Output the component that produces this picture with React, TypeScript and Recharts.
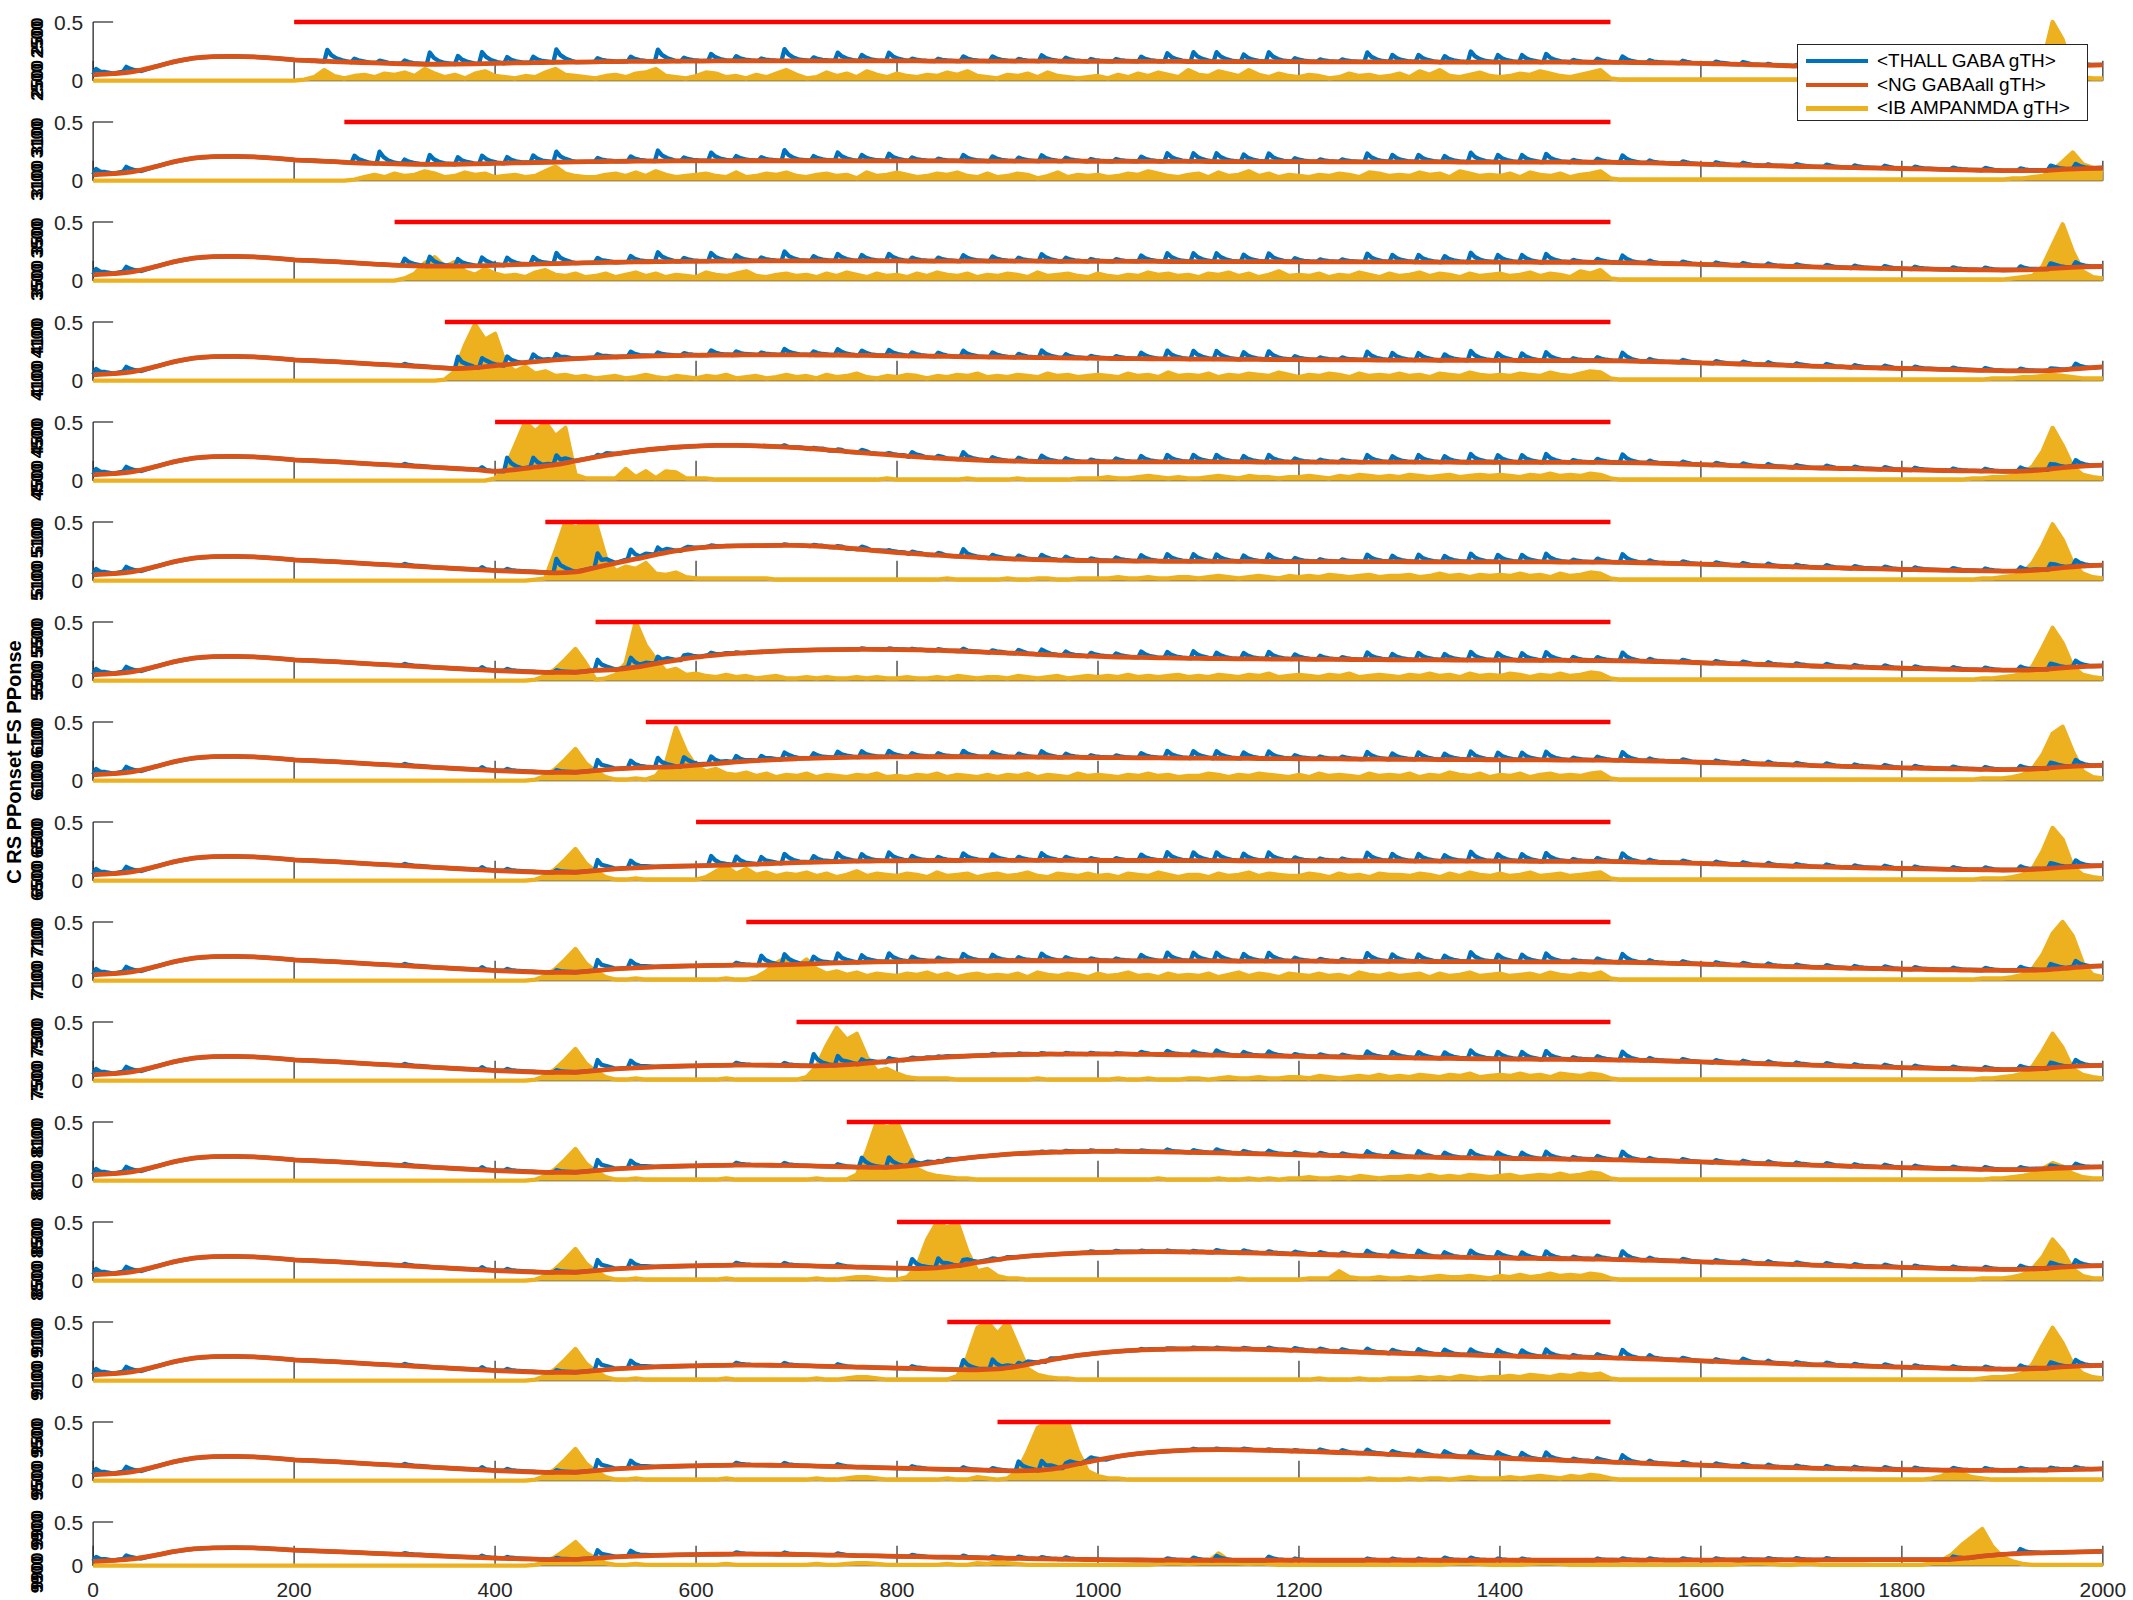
import React from "react";
import { ComposedChart, Line, Area, XAxis, YAxis } from "recharts";

// ---------------- text / style constants ----------------
const FONT = '"Liberation Sans", Arial, Helvetica, sans-serif';
const AXIS = "#262626";
const SERIES_NAMES = ["<THALL GABA gTH>", "<NG GABAall gTH>", "<IB AMPANMDA gTH>"];
const SERIES_COLORS = ["#0072BD", "#D95319", "#EDB120"];
const STIM_COLOR = "#FF0000";
const Y_LABEL = "C RS PPonset FS PPonse";
const PANEL_LABELS = [
  "2500 2500", "3100 3100", "3500 3500", "4100 4100", "4500 4500", "5100 5100",
  "5500 5500", "6100 6100", "6500 6500", "7100 7100", "7500 7500", "8100 8100",
  "8500 8500", "9100 9100", "9500 9500", "9900 9900",
];

// ---------------- axes ----------------
const X_TICKS = [0, 200, 400, 600, 800, 1000, 1200, 1400, 1600, 1800, 2000];
const Y_TICKS = [0, 0.5];

// ---------------- stimulus (red bar) ----------------
const STIM_ONSETS = [200, 250, 300, 350, 400, 450, 500, 550, 600, 650, 700, 750, 800, 850, 900];
const STIM_END = 1510;

// ---------------- THALL spike times (ms) & spike profile ----------------
const SPIKE_TIMES = [
  0, 30,
  230, 257, 282, 307, 332, 360, 384, 409,
  435, 458, 499, 532, 559, 585, 612, 637, 662, 685,
  714, 738, 762, 789, 812, 838, 863, 892, 918, 941,
  965, 990, 1015, 1040, 1066, 1092, 1115, 1142, 1167, 1193,
  1218, 1240, 1265, 1290, 1316, 1342, 1368, 1395, 1419, 1443,
  1470, 1494, 1519, 1546, 1579, 1612, 1639, 1664, 1692, 1722,
  1750, 1780, 1810, 1848, 1880, 1915, 1945, 1970,
];
const SPIKE_SHAPE = [[0, 0], [3, 1], [7, 0.55], [12, 0.28], [18, 0.1]];

// ---------------- unstimulated run (bottom panel, and every panel before its onset) ----------------
// NG GABAall, every 20 ms, x1000
const ORANGE_BASE = [
  50, 60, 78, 115, 160,
  192, 205, 207, 203, 192,
  178, 170, 162, 152, 142,
  132, 123, 114, 104, 95,
  86, 80, 74, 70, 72,
  86, 100, 110, 117, 123,
  127, 131, 133, 133, 131,
  128, 124, 120, 116, 112,
  107, 103, 99, 95, 91,
  87, 83, 79, 75, 72,
  69, 67, 65, 64, 63,
  62, 62, 62, 62, 62,
  62, 62, 62, 62, 62,
  62, 62, 62, 62, 62,
  62, 62, 62, 62, 62,
  62, 63, 63, 63, 64,
  64, 65, 65, 66, 66,
  67, 67, 68, 68, 69,
  69, 70, 70, 85, 110,
  130, 140, 147, 153, 159,
  164,
];
// IB AMPANMDA, every 10 ms, x100
const YELLOW_BASE = [
  0, 0, 0, 0, 0, 0, 0, 0, 0, 0,
  0, 0, 0, 0, 0, 0, 0, 0, 0, 0,
  0, 0, 0, 0, 0, 0, 0, 0, 0, 0,
  0, 0, 0, 0, 0, 0, 0, 0, 0, 0,
  0, 0, 0, 0, 1, 4, 10, 18, 27, 15,
  8, 3, 1, 1, 2, 1, 1, 1, 1, 1,
  1, 1, 1, 2, 1, 1, 1, 1, 1, 1,
  1, 1, 2, 1, 1, 2, 3, 3, 2, 1,
  1, 1, 1, 1, 1, 2, 1, 1, 3, 2,
  4, 3, 2, 1, 1, 1, 1, 1, 1, 1,
  1, 1, 1, 1, 1, 1, 2, 3, 3, 2,
  3, 5, 14, 6, 3, 2, 3, 2, 1, 1,
  1, 1, 1, 1, 1, 1, 1, 1, 1, 1,
  1, 1, 1, 1, 1, 2, 3, 3, 2, 1,
  1, 1, 1, 2, 3, 3, 2, 1, 1, 1,
  1, 1, 1, 1, 1, 1, 1, 1, 1, 1,
  1, 1, 1, 1, 2, 3, 3, 2, 1, 1,
  2, 2, 1, 1, 1, 1, 1, 1, 1, 1,
  1, 1, 1, 3, 6, 13, 24, 33, 42, 22,
  10, 5, 2, 1, 1, 1, 1, 1, 1, 1,
  1,
];
// THALL spike heights above NG curve, x100, one per SPIKE_TIMES entry
const BLUE_AMP_BASE = [
  5, 4,
  0, 0, 0, 2, 0, 0, 2, 2,
  0, 2, 9, 6, 0, 0, 0, 2, 0, 2,
  0, 2, 0, 0, 2, 0, 2, 2, 2, 2,
  2, 0, 0, 0, 2, 3, 5, 0, 4, 2,
  0, 0, 2, 2, 2, 3, 3, 2, 2, 0,
  0, 2, 2, 2, 2, 2, 2, 2, 2, 2,
  0, 0, 0, 2, 0, 5, 0, 0,
];

// ---------------- stimulated panels: values from the onset on ----------------
// NG GABAall (x1000, every 20 ms from first grid point >= onset)
const ORANGE_P0 = [178, 170, 163, 157, 151, 146, 142, 140, 141, 144, 148, 151, 154, 157, 159, 161, 163, 164, 165, 166, 167, 168, 168, 169, 169, 169, 169, 169, 169, 168, 168, 168, 167, 167, 167, 167, 166, 166, 166, 165, 165, 165, 164, 164, 164, 163, 163, 163, 162, 162, 162, 161, 161, 161, 160, 160, 160, 159, 159, 159, 158, 158, 158, 158, 157, 157, 156, 154, 152, 150, 147, 143, 139, 134, 129, 124, 120, 116, 112, 109, 106, 103, 101, 99, 98, 97, 98, 106, 120, 130, 135];
const ORANGE_P1 = [152, 147, 143, 140, 139, 140, 143, 147, 151, 155, 158, 161, 163, 165, 166, 167, 168, 169, 169, 170, 170, 170, 170, 170, 170, 169, 169, 169, 168, 168, 168, 167, 167, 167, 166, 166, 166, 165, 165, 165, 164, 164, 164, 163, 163, 163, 162, 162, 162, 161, 161, 161, 160, 160, 160, 159, 159, 159, 158, 158, 158, 157, 157, 155, 152, 149, 145, 141, 137, 133, 129, 125, 121, 117, 113, 110, 107, 104, 100, 96, 92, 89, 86, 85, 88, 96, 103, 108];
const ORANGE_P2 = [132, 127, 124, 124, 127, 131, 136, 141, 146, 150, 154, 157, 160, 162, 164, 165, 166, 167, 168, 168, 168, 168, 168, 168, 168, 168, 167, 167, 167, 167, 166, 166, 166, 165, 165, 165, 164, 164, 164, 163, 163, 163, 162, 162, 162, 161, 161, 161, 160, 160, 160, 159, 159, 159, 158, 158, 158, 157, 157, 157, 156, 154, 151, 147, 143, 139, 135, 131, 127, 123, 119, 115, 111, 108, 105, 102, 99, 96, 94, 92, 91, 92, 98, 110, 117, 121];
const ORANGE_P3 = [104, 112, 128, 146, 163, 177, 188, 196, 202, 207, 211, 214, 216, 218, 219, 220, 220, 220, 219, 218, 216, 214, 212, 210, 208, 205, 203, 201, 199, 197, 195, 193, 191, 189, 188, 186, 185, 184, 183, 182, 181, 180, 179, 178, 178, 177, 176, 176, 175, 174, 174, 173, 173, 172, 172, 171, 171, 170, 168, 165, 161, 157, 152, 147, 142, 137, 132, 127, 122, 117, 112, 108, 104, 100, 96, 92, 88, 85, 83, 84, 92, 105, 118];
const ORANGE_P4 = [80, 95, 115, 136, 168, 200, 228, 252, 270, 285, 295, 300, 300, 297, 291, 282, 270, 256, 242, 228, 215, 203, 192, 183, 176, 170, 166, 163, 161, 160, 160, 160, 160, 160, 160, 160, 160, 160, 159, 159, 159, 159, 159, 158, 158, 158, 158, 158, 157, 157, 157, 157, 157, 156, 156, 156, 154, 151, 147, 142, 137, 132, 127, 122, 117, 112, 108, 104, 100, 96, 93, 90, 87, 84, 82, 80, 82, 92, 112, 125, 132];
const ORANGE_P5 = [66, 75, 112, 150, 185, 222, 255, 278, 290, 296, 299, 300, 300, 295, 285, 270, 255, 240, 228, 217, 207, 198, 190, 184, 179, 175, 172, 170, 168, 167, 166, 165, 165, 164, 164, 164, 163, 163, 163, 162, 162, 162, 162, 161, 161, 161, 160, 160, 160, 160, 159, 159, 158, 156, 153, 149, 145, 141, 136, 131, 126, 121, 116, 112, 108, 104, 100, 96, 93, 90, 87, 84, 82, 84, 94, 112, 125, 132];
const ORANGE_P6 = [88, 95, 115, 145, 175, 200, 218, 232, 243, 252, 258, 262, 265, 266, 266, 265, 262, 258, 253, 246, 239, 232, 225, 218, 212, 207, 202, 198, 195, 192, 190, 188, 186, 185, 184, 183, 182, 181, 180, 179, 178, 177, 177, 176, 175, 175, 174, 173, 173, 172, 171, 169, 166, 162, 158, 153, 148, 143, 138, 133, 128, 123, 118, 114, 110, 106, 102, 98, 95, 92, 90, 90, 96, 110, 120, 126];
const ORANGE_P7 = [114, 120, 132, 146, 160, 171, 180, 187, 193, 197, 200, 202, 203, 204, 204, 204, 203, 202, 201, 200, 199, 198, 197, 196, 195, 194, 193, 192, 191, 190, 189, 188, 187, 186, 185, 184, 183, 182, 181, 180, 180, 179, 178, 178, 177, 176, 176, 175, 173, 170, 166, 162, 157, 152, 147, 142, 137, 132, 127, 122, 118, 114, 110, 106, 103, 100, 97, 95, 96, 104, 118, 126, 131];
const ORANGE_P8 = [127, 130, 135, 141, 148, 154, 159, 163, 166, 168, 170, 171, 172, 172, 173, 173, 173, 173, 173, 173, 172, 172, 172, 172, 171, 171, 171, 170, 170, 170, 169, 169, 169, 168, 168, 168, 167, 167, 167, 166, 166, 166, 165, 165, 165, 164, 162, 159, 155, 151, 147, 142, 137, 132, 127, 122, 118, 114, 110, 107, 104, 101, 98, 95, 93, 91, 92, 100, 114, 123, 129];
const ORANGE_P9 = [133, 135, 139, 145, 151, 156, 160, 163, 165, 167, 168, 169, 170, 170, 170, 170, 170, 170, 169, 169, 169, 168, 168, 168, 167, 167, 167, 166, 166, 165, 165, 165, 164, 164, 163, 163, 162, 162, 161, 161, 160, 160, 159, 157, 154, 150, 146, 142, 137, 132, 127, 122, 117, 113, 109, 105, 102, 99, 96, 93, 91, 89, 88, 88, 92, 104, 118, 126];
const ORANGE_P10 = [128, 126, 130, 142, 157, 172, 186, 197, 206, 213, 218, 222, 225, 226, 227, 227, 226, 225, 223, 221, 219, 217, 214, 212, 209, 207, 204, 202, 199, 197, 195, 193, 191, 189, 187, 185, 184, 182, 181, 180, 178, 176, 173, 169, 165, 160, 155, 150, 145, 140, 135, 130, 125, 120, 116, 112, 108, 104, 100, 97, 95, 96, 104, 118, 126, 131];
const ORANGE_P11 = [116, 113, 118, 134, 158, 183, 203, 218, 230, 238, 244, 247, 249, 249, 248, 246, 243, 240, 237, 233, 229, 225, 221, 217, 213, 210, 207, 204, 201, 198, 195, 193, 190, 188, 186, 184, 182, 180, 177, 174, 170, 165, 160, 155, 150, 145, 140, 135, 130, 125, 120, 116, 112, 108, 104, 100, 97, 95, 95, 100, 108, 114, 118];
const ORANGE_P12 = [107, 104, 110, 128, 155, 180, 200, 215, 226, 234, 240, 244, 246, 247, 246, 244, 241, 238, 235, 231, 227, 223, 219, 215, 211, 208, 205, 202, 199, 196, 194, 191, 189, 187, 185, 183, 180, 176, 171, 166, 161, 156, 151, 146, 141, 136, 131, 126, 121, 117, 113, 109, 105, 101, 98, 96, 97, 104, 116, 124, 129];
const ORANGE_P13 = [95, 93, 100, 122, 155, 188, 215, 235, 250, 260, 266, 270, 272, 271, 269, 266, 262, 258, 253, 248, 243, 238, 233, 228, 224, 220, 216, 212, 208, 205, 202, 199, 196, 192, 187, 181, 175, 169, 163, 157, 151, 145, 139, 134, 129, 124, 119, 115, 111, 107, 103, 100, 98, 99, 106, 118, 126, 131];
const ORANGE_P14 = [87, 84, 88, 108, 142, 178, 208, 230, 246, 256, 262, 264, 263, 260, 256, 251, 246, 240, 234, 228, 222, 216, 210, 204, 198, 192, 186, 180, 174, 168, 162, 156, 150, 144, 138, 132, 127, 122, 117, 113, 109, 105, 102, 99, 96, 94, 92, 90, 89, 88, 88, 89, 91, 94, 97, 100];

// IB AMPANMDA (x100, every 10 ms from onset)
const YELLOW_P0 = [
  0, 1, 3, 9, 4, 2, 4, 5, 3, 6,
  5, 7, 4, 10, 6, 3, 5, 2, 6, 8,
  4, 3, 2, 4, 3, 7, 10, 5, 4, 3,
  2, 4, 5, 3, 6, 7, 10, 4, 3, 2,
  4, 7, 6, 3, 4, 2, 5, 3, 6, 9,
  5, 2, 3, 7, 4, 6, 3, 8, 5, 3,
  6, 4, 3, 5, 4, 7, 5, 8, 4, 3,
  2, 5, 4, 6, 3, 7, 4, 3, 2, 3,
  4, 2, 5, 3, 6, 4, 7, 5, 3, 9,
  5, 4, 8, 6, 4, 9, 5, 3, 6, 4,
  3, 5, 4, 2, 3, 6, 4, 5, 3, 4,
  6, 3, 8, 5, 9, 4, 3, 5, 7, 4,
  3, 4, 6, 5, 8, 6, 4, 3, 5, 7,
  9, 2, 1, 1, 1, 1, 1, 1, 1, 1,
  1, 1, 1, 1, 1, 1, 1, 1, 1, 1,
  1, 1, 1, 1, 1, 1, 1, 1, 1, 1,
  1, 1, 1, 1, 1, 1, 1, 1, 1, 2,
  2, 2, 2, 4, 15, 50, 35, 8, 3, 2,
  2,
];
const YELLOW_P1 = [
  0, 1, 3, 5, 3,
  6, 4, 5, 8, 6, 3, 4, 7, 5, 6,
  3, 4, 5, 3, 4, 8, 12, 6, 4, 3,
  3, 5, 6, 4, 7, 4, 8, 5, 3, 4,
  5, 6, 4, 3, 7, 3, 4, 6, 5, 7,
  4, 3, 5, 6, 4, 5, 2, 7, 4, 5,
  7, 5, 3, 4, 6, 5, 7, 4, 3, 6,
  3, 4, 6, 5, 2, 4, 7, 3, 5, 4,
  5, 3, 4, 6, 5, 8, 6, 4, 3, 5,
  6, 3, 7, 4, 5, 8, 4, 6, 3, 5,
  4, 3, 5, 4, 6, 5, 3, 7, 6, 4,
  5, 4, 7, 5, 6, 3, 8, 6, 4, 5,
  4, 6, 3, 7, 5, 4, 6, 3, 5, 6,
  8, 2, 1, 1, 1, 1, 1, 1, 1, 1,
  1, 1, 1, 1, 1, 1, 1, 1, 1, 1,
  1, 1, 1, 1, 1, 1, 1, 1, 1, 1,
  1, 1, 1, 1, 1, 1, 1, 1, 1, 1,
  1, 2, 2, 3, 4, 9, 16, 24, 14, 11,
  7,
];
const YELLOW_P2 = [
  0, 2, 6, 15, 20, 12, 16, 8, 5, 10,
  6, 4, 5, 3, 7, 9, 5, 4, 6, 3,
  4, 6, 3, 5, 7, 4, 6, 3, 5, 4,
  3, 7, 5, 4, 6, 8, 4, 3, 5, 6,
  4, 5, 3, 6, 4, 7, 5, 3, 6, 4,
  5, 3, 6, 4, 7, 5, 4, 6, 3, 5,
  4, 6, 5, 3, 7, 4, 5, 6, 4, 3,
  6, 4, 3, 5, 4, 7, 5, 6, 4, 5,
  3, 6, 5, 7, 4, 6, 3, 5, 8, 4,
  5, 4, 6, 3, 5, 4, 7, 5, 3, 6,
  4, 5, 7, 4, 6, 5, 3, 6, 4, 5,
  6, 4, 5, 7, 4, 6, 5, 3, 8, 6,
  9, 2, 1, 1, 1, 1, 1, 1, 1, 1,
  1, 1, 1, 1, 1, 1, 1, 1, 1, 1,
  1, 1, 1, 1, 1, 1, 1, 1, 1, 1,
  1, 1, 1, 1, 1, 1, 1, 1, 1, 1,
  1, 2, 3, 4, 12, 30, 48, 25, 8, 3,
  2,
];
const YELLOW_P3 = [
  1, 8, 30, 48, 35,
  40, 15, 8, 12, 6, 8, 4, 5, 3, 4,
  2, 3, 4, 2, 3, 5, 3, 2, 4, 3,
  2, 4, 3, 5, 2, 3, 4, 2, 3, 5,
  3, 4, 2, 5, 3, 4, 6, 3, 2, 4,
  3, 5, 4, 2, 4, 3, 5, 4, 6, 3,
  4, 3, 5, 4, 3, 6, 4, 5, 3, 4,
  5, 4, 3, 6, 4, 5, 3, 7, 4, 5,
  4, 6, 3, 5, 4, 6, 5, 4, 7, 5,
  3, 5, 4, 6, 5, 3, 6, 4, 5, 4,
  6, 4, 5, 3, 6, 5, 4, 7, 5, 4,
  5, 4, 6, 5, 4, 7, 5, 4, 6, 8,
  7, 2, 1, 1, 1, 1, 1, 1, 1, 1,
  1, 1, 1, 1, 1, 1, 1, 1, 1, 1,
  1, 1, 1, 1, 1, 1, 1, 1, 1, 1,
  1, 1, 1, 1, 1, 1, 1, 1, 1, 2,
  2, 2, 3, 3, 4, 5, 4, 3, 2, 2,
  2,
];
const YELLOW_P4 = [
  2, 10, 30, 50, 42, 50, 38, 45, 5, 2,
  2, 2, 2, 10, 3, 8, 2, 8, 7, 2,
  2, 2, 1, 1, 1, 1, 1, 1, 1, 1,
  1, 1, 1, 1, 1, 1, 1, 1, 1, 2,
  1, 1, 1, 1, 1, 1, 1, 2, 1, 1,
  1, 1, 2, 1, 1, 1, 1, 1, 2, 2,
  2, 3, 2, 2, 3, 4, 3, 2, 3, 2,
  2, 3, 4, 3, 2, 4, 3, 3, 2, 3,
  3, 4, 3, 2, 4, 3, 5, 4, 3, 4,
  3, 5, 4, 3, 4, 5, 3, 4, 5, 4,
  5, 4, 3, 5, 4, 6, 4, 5, 4, 6,
  5, 2, 1, 1, 1, 1, 1, 1, 1, 1,
  1, 1, 1, 1, 1, 1, 1, 1, 1, 1,
  1, 1, 1, 1, 1, 1, 1, 1, 1, 1,
  1, 1, 1, 1, 1, 1, 1, 2, 2, 3,
  3, 4, 6, 12, 25, 45, 30, 12, 5, 3,
  2,
];
const YELLOW_P5 = [
  2, 25, 50, 45, 50,
  50, 20, 8, 12, 10, 15, 6, 5, 7, 3,
  2, 2, 2, 2, 2, 2, 2, 2, 1, 1,
  1, 1, 1, 1, 1, 1, 1, 1, 1, 1,
  1, 1, 1, 1, 1, 2, 1, 1, 1, 1,
  1, 2, 1, 1, 2, 2, 1, 1, 2, 2,
  2, 2, 3, 2, 2, 3, 2, 2, 3, 3,
  2, 3, 4, 3, 2, 3, 4, 3, 2, 4,
  3, 4, 3, 5, 4, 3, 4, 5, 3, 4,
  4, 5, 3, 4, 6, 4, 5, 3, 5, 4,
  5, 4, 6, 4, 5, 3, 6, 4, 5, 7,
  6, 2, 1, 1, 1, 1, 1, 1, 1, 1,
  1, 1, 1, 1, 1, 1, 1, 1, 1, 1,
  1, 1, 1, 1, 1, 1, 1, 1, 1, 1,
  1, 1, 1, 1, 1, 1, 1, 1, 2, 2,
  3, 4, 6, 15, 30, 48, 35, 15, 6, 3,
  2,
];
const YELLOW_P6 = [
  1, 2, 5, 15, 50, 30, 18, 8, 10, 5,
  6, 4, 3, 5, 3, 4, 2, 3, 4, 2,
  2, 3, 2, 3, 2, 2, 3, 2, 3, 2,
  2, 3, 2, 2, 3, 2, 4, 3, 2, 3,
  3, 2, 4, 3, 2, 3, 4, 2, 3, 4,
  3, 4, 3, 5, 3, 4, 3, 4, 5, 3,
  4, 3, 5, 4, 3, 5, 4, 6, 3, 4,
  5, 4, 3, 5, 4, 6, 3, 4, 5, 4,
  3, 5, 4, 6, 4, 5, 3, 6, 4, 5,
  4, 6, 5, 3, 5, 4, 6, 4, 5, 7,
  6, 2, 1, 1, 1, 1, 1, 1, 1, 1,
  1, 1, 1, 1, 1, 1, 1, 1, 1, 1,
  1, 1, 1, 1, 1, 1, 1, 1, 1, 1,
  1, 1, 1, 1, 1, 1, 1, 1, 2, 2,
  3, 4, 6, 12, 28, 45, 32, 12, 5, 3,
  2,
];
const YELLOW_P7 = [
  1, 4, 15, 45, 25,
  12, 8, 10, 6, 5, 7, 4, 6, 3, 5,
  4, 6, 3, 5, 4, 3, 5, 4, 6, 3,
  4, 3, 5, 4, 6, 3, 5, 4, 3, 5,
  3, 5, 4, 6, 3, 5, 4, 3, 6, 4,
  5, 4, 3, 5, 4, 6, 4, 5, 3, 4,
  4, 6, 5, 3, 5, 4, 6, 5, 4, 3,
  5, 3, 6, 4, 5, 4, 3, 6, 4, 5,
  4, 6, 3, 5, 4, 7, 5, 4, 6, 3,
  5, 4, 6, 3, 5, 6, 4, 5, 4, 6,
  7, 2, 1, 1, 1, 1, 1, 1, 1, 1,
  1, 1, 1, 1, 1, 1, 1, 1, 1, 1,
  1, 1, 1, 1, 1, 1, 1, 1, 1, 1,
  1, 1, 1, 1, 1, 1, 1, 1, 2, 2,
  2, 3, 5, 10, 22, 40, 46, 25, 8, 3,
  2,
];
const YELLOW_P8 = [
  1, 3, 8, 12, 6, 10, 5, 7, 4, 6,
  5, 7, 4, 6, 3, 5, 8, 4, 6, 5,
  4, 6, 5, 3, 7, 4, 5, 6, 3, 5,
  6, 4, 5, 7, 4, 3, 6, 5, 4, 6,
  4, 5, 3, 6, 5, 4, 7, 5, 3, 5,
  5, 3, 6, 4, 5, 7, 4, 6, 5, 4,
  4, 6, 5, 3, 6, 4, 5, 3, 6, 5,
  5, 4, 6, 5, 3, 6, 4, 7, 5, 4,
  6, 4, 5, 7, 4, 5, 6, 4, 5, 6,
  7, 2, 1, 1, 1, 1, 1, 1, 1, 1,
  1, 1, 1, 1, 1, 1, 1, 1, 1, 1,
  1, 1, 1, 1, 1, 1, 1, 1, 1, 1,
  1, 1, 1, 1, 1, 1, 1, 1, 2, 2,
  2, 3, 5, 10, 25, 45, 35, 12, 5, 3,
  2,
];
const YELLOW_P9 = [
  1, 3, 8, 15, 20,
  12, 18, 10, 6, 8, 5, 7, 4, 6, 5,
  4, 6, 5, 7, 4, 6, 3, 5, 6, 4,
  5, 4, 6, 3, 7, 5, 4, 6, 5, 3,
  6, 4, 5, 7, 4, 5, 3, 6, 4, 5,
  4, 6, 3, 5, 7, 4, 6, 5, 3, 6,
  5, 4, 6, 4, 5, 3, 7, 5, 4, 6,
  4, 5, 6, 3, 6, 4, 5, 7, 4, 5,
  6, 4, 5, 6, 4, 7, 5, 4, 6, 5,
  7, 2, 1, 1, 1, 1, 1, 1, 1, 1,
  1, 1, 1, 1, 1, 1, 1, 1, 1, 1,
  1, 1, 1, 1, 1, 1, 1, 1, 1, 1,
  1, 1, 1, 1, 1, 1, 1, 1, 2, 2,
  2, 3, 5, 10, 22, 40, 50, 38, 15, 5,
  3,
];
const YELLOW_P10 = [
  1, 3, 12, 30, 45, 35, 40, 20, 8, 10,
  6, 3, 2, 2, 2, 2, 1, 1, 1, 1,
  1, 1, 1, 1, 2, 1, 1, 1, 1, 1,
  1, 1, 2, 1, 1, 2, 1, 1, 1, 2,
  2, 1, 2, 3, 2, 2, 3, 2, 2, 3,
  3, 2, 4, 3, 2, 3, 4, 3, 5, 3,
  4, 3, 5, 4, 3, 5, 4, 6, 3, 4,
  5, 4, 6, 4, 5, 3, 6, 5, 4, 6,
  5, 2, 1, 1, 1, 1, 1, 1, 1, 1,
  1, 1, 1, 1, 1, 1, 1, 1, 1, 1,
  1, 1, 1, 1, 1, 1, 1, 1, 1, 1,
  1, 1, 1, 1, 1, 1, 1, 1, 2, 2,
  3, 4, 6, 12, 25, 40, 28, 10, 5, 3,
  2,
];
const YELLOW_P11 = [
  1, 5, 25, 50, 45,
  50, 30, 10, 6, 4, 3, 2, 2, 1, 1,
  1, 1, 1, 1, 1, 1, 1, 1, 1, 1,
  1, 1, 1, 1, 1, 1, 2, 1, 1, 1,
  1, 1, 2, 1, 1, 2, 1, 2, 1, 2,
  2, 3, 2, 2, 3, 2, 4, 3, 2, 3,
  3, 4, 3, 5, 3, 4, 3, 5, 4, 3,
  4, 5, 3, 4, 5, 4, 6, 4, 5, 7,
  6, 2, 1, 1, 1, 1, 1, 1, 1, 1,
  1, 1, 1, 1, 1, 1, 1, 1, 1, 1,
  1, 1, 1, 1, 1, 1, 1, 1, 1, 1,
  1, 1, 1, 1, 1, 1, 1, 1, 1, 2,
  2, 3, 4, 6, 10, 15, 12, 6, 3, 2,
  2,
];
const YELLOW_P12 = [
  1, 3, 12, 35, 50, 45, 50, 25, 8, 10,
  4, 2, 2, 1, 1, 1, 1, 1, 1, 1,
  1, 1, 1, 1, 1, 1, 1, 1, 1, 1,
  1, 1, 1, 1, 2, 1, 1, 1, 1, 1,
  1, 2, 2, 2, 8, 3, 2, 2, 3, 2,
  2, 3, 2, 3, 4, 3, 3, 4, 3, 2,
  4, 3, 5, 3, 4, 6, 4, 5, 4, 6,
  5, 2, 1, 1, 1, 1, 1, 1, 1, 1,
  1, 1, 1, 1, 1, 1, 1, 1, 1, 1,
  1, 1, 1, 1, 1, 1, 1, 1, 1, 1,
  1, 1, 1, 1, 1, 1, 1, 1, 2, 2,
  2, 3, 5, 10, 20, 35, 25, 10, 4, 2,
  2,
];
const YELLOW_P13 = [
  1, 4, 20, 45, 50,
  40, 50, 30, 10, 5, 3, 2, 2, 1, 1,
  1, 1, 1, 1, 1, 1, 1, 1, 1, 1,
  1, 1, 1, 1, 1, 1, 1, 1, 1, 1,
  1, 1, 2, 1, 1, 1, 2, 1, 1, 2,
  2, 2, 3, 2, 3, 2, 4, 3, 2, 3,
  3, 4, 3, 5, 4, 3, 5, 4, 6, 5,
  6, 2, 1, 1, 1, 1, 1, 1, 1, 1,
  1, 1, 1, 1, 1, 1, 1, 1, 1, 1,
  1, 1, 1, 1, 1, 1, 1, 1, 1, 1,
  1, 1, 1, 1, 1, 1, 1, 1, 2, 3,
  3, 4, 6, 14, 30, 45, 32, 14, 6, 3,
  2,
];
const YELLOW_P14 = [
  1, 2, 8, 25, 45, 50, 48, 50, 25, 8,
  4, 2, 2, 1, 1, 1, 1, 1, 1, 1,
  1, 1, 1, 1, 1, 1, 1, 1, 1, 1,
  1, 1, 1, 1, 1, 1, 1, 2, 1, 1,
  1, 2, 1, 2, 2, 1, 2, 3, 2, 2,
  2, 3, 2, 3, 4, 3, 2, 4, 3, 5,
  4, 2, 1, 1, 1, 1, 1, 1, 1, 1,
  1, 1, 1, 1, 1, 1, 1, 1, 1, 1,
  1, 1, 1, 1, 1, 1, 1, 1, 1, 1,
  1, 1, 1, 2, 4, 10, 6, 3, 2, 1,
  1, 1, 1, 1, 1, 1, 1, 1, 1, 1,
  1,
];

// THALL spike heights (x100) from the first spike time >= onset
const BLUE_AMP_P0 = [10, 3, 2, 3, 10, 7, 10, 5, 5, 11, 3, 4, 10, 3, 6, 4, 2, 10, 3, 7, 5, 7, 2, 2, 4, 4, 2, 5, 3, 2, 2, 4, 7, 8, 8, 6, 8, 3, 2, 2, 8, 6, 6, 5, 9, 6, 6, 7, 2, 3, 5, 2, 2, 2, 2, 1, 1, 2, 2, 2, 2, 2, 2, 2, 3, 4];
const BLUE_AMP_P1 = [6, 10, 4, 8, 6, 7, 5, 6, 9, 3, 4, 9, 3, 7, 4, 3, 9, 4, 7, 5, 6, 3, 2, 5, 4, 3, 5, 3, 2, 2, 4, 7, 7, 7, 6, 7, 3, 2, 2, 7, 6, 6, 5, 8, 6, 6, 7, 2, 3, 6, 2, 2, 2, 2, 1, 2, 2, 2, 2, 2, 2, 2, 2, 4, 4];
const BLUE_AMP_P2 = [6, 8, 6, 7, 6, 6, 9, 4, 5, 8, 3, 7, 5, 3, 8, 4, 6, 5, 6, 3, 3, 5, 4, 3, 6, 3, 2, 2, 5, 7, 7, 7, 6, 7, 3, 2, 2, 7, 6, 6, 5, 8, 6, 6, 7, 2, 3, 6, 2, 2, 2, 2, 2, 2, 2, 2, 2, 2, 2, 2, 3, 5, 4];
const BLUE_AMP_P3 = [10, 8, 6, 6, 5, 3, 4, 3, 2, 4, 3, 2, 5, 3, 5, 4, 5, 3, 3, 5, 4, 3, 6, 3, 2, 2, 5, 7, 7, 7, 6, 7, 3, 2, 2, 7, 6, 6, 5, 8, 6, 6, 7, 2, 3, 7, 2, 2, 2, 2, 2, 2, 2, 2, 2, 2, 2, 2, 2, 2, 4];
const BLUE_AMP_P4 = [10, 8, 8, 2, 0, 0, 0, 0, 0, 0, 1, 1, 1, 2, 2, 4, 2, 6, 3, 3, 5, 3, 2, 3, 5, 6, 6, 6, 5, 6, 3, 2, 2, 6, 5, 6, 5, 7, 6, 6, 7, 2, 3, 7, 2, 2, 2, 2, 2, 2, 2, 2, 2, 2, 2, 2, 3, 5, 5];
const BLUE_AMP_P5 = [12, 12, 8, 6, 2, 1, 0, 0, 1, 1, 1, 2, 2, 2, 2, 6, 3, 3, 4, 3, 2, 3, 5, 6, 6, 6, 5, 6, 3, 2, 2, 6, 5, 6, 5, 7, 6, 6, 7, 2, 3, 7, 2, 2, 2, 2, 2, 2, 2, 2, 2, 2, 2, 2, 3, 5, 5];
const BLUE_AMP_P6 = [8, 6, 4, 2, 1, 0, 0, 0, 0, 1, 1, 1, 1, 2, 2, 3, 4, 3, 3, 3, 5, 5, 6, 5, 5, 6, 4, 3, 2, 6, 5, 6, 5, 7, 6, 6, 7, 3, 3, 7, 2, 2, 2, 2, 2, 2, 2, 2, 2, 2, 2, 2, 3, 5, 5];
const BLUE_AMP_P7 = [8, 8, 6, 5, 4, 6, 4, 5, 5, 5, 3, 3, 5, 4, 3, 5, 3, 2, 2, 4, 6, 6, 6, 5, 6, 3, 2, 2, 6, 5, 6, 5, 7, 6, 6, 7, 2, 3, 7, 2, 2, 2, 2, 2, 2, 2, 2, 2, 2, 2, 2, 3, 5, 5];
const BLUE_AMP_P8 = [8, 7, 6, 8, 5, 7, 6, 7, 4, 3, 6, 5, 3, 6, 3, 2, 2, 5, 7, 7, 7, 6, 7, 3, 2, 2, 7, 6, 6, 5, 8, 6, 6, 7, 2, 3, 7, 2, 2, 2, 2, 2, 2, 2, 2, 2, 2, 2, 2, 3, 5, 5];
const BLUE_AMP_P9 = [8, 9, 6, 8, 6, 7, 4, 3, 6, 5, 3, 6, 3, 2, 2, 5, 7, 7, 7, 6, 7, 3, 2, 2, 7, 6, 6, 5, 8, 6, 6, 7, 2, 3, 7, 2, 2, 2, 2, 2, 2, 2, 2, 2, 2, 2, 2, 3, 5, 5];
const BLUE_AMP_P10 = [10, 8, 4, 2, 1, 1, 0, 1, 1, 1, 1, 1, 1, 2, 3, 3, 4, 3, 4, 2, 2, 2, 5, 5, 5, 5, 7, 6, 6, 7, 2, 3, 7, 2, 2, 2, 2, 2, 2, 2, 2, 2, 2, 2, 2, 3, 5, 5];
const BLUE_AMP_P11 = [8, 8, 4, 1, 0, 0, 0, 1, 1, 1, 1, 1, 2, 2, 3, 2, 3, 2, 2, 2, 4, 4, 5, 4, 6, 5, 5, 6, 2, 3, 7, 2, 2, 2, 2, 2, 2, 2, 2, 2, 2, 2, 2, 2, 3, 3];
const BLUE_AMP_P12 = [8, 8, 5, 1, 0, 0, 0, 1, 1, 1, 1, 1, 2, 2, 2, 2, 2, 2, 4, 4, 5, 4, 6, 5, 5, 6, 2, 3, 7, 2, 2, 2, 2, 2, 2, 2, 2, 2, 2, 2, 2, 3, 5, 5];
const BLUE_AMP_P13 = [8, 8, 3, 1, 0, 0, 0, 1, 1, 1, 1, 1, 2, 2, 2, 2, 3, 3, 4, 4, 5, 5, 5, 6, 2, 3, 7, 3, 2, 2, 3, 2, 2, 2, 2, 2, 2, 2, 2, 3, 5, 5];
const BLUE_AMP_P14 = [8, 8, 4, 2, 0, 0, 0, 1, 1, 1, 1, 1, 2, 2, 3, 3, 4, 4, 5, 5, 5, 6, 2, 3, 6, 2, 2, 2, 2, 2, 2, 2, 2, 2, 2, 2, 2, 2, 2, 2];

const ORANGE_POST = [ORANGE_P0, ORANGE_P1, ORANGE_P2, ORANGE_P3, ORANGE_P4, ORANGE_P5, ORANGE_P6, ORANGE_P7, ORANGE_P8, ORANGE_P9, ORANGE_P10, ORANGE_P11, ORANGE_P12, ORANGE_P13, ORANGE_P14];
const YELLOW_POST = [YELLOW_P0, YELLOW_P1, YELLOW_P2, YELLOW_P3, YELLOW_P4, YELLOW_P5, YELLOW_P6, YELLOW_P7, YELLOW_P8, YELLOW_P9, YELLOW_P10, YELLOW_P11, YELLOW_P12, YELLOW_P13, YELLOW_P14];
const BLUE_AMP_POST = [BLUE_AMP_P0, BLUE_AMP_P1, BLUE_AMP_P2, BLUE_AMP_P3, BLUE_AMP_P4, BLUE_AMP_P5, BLUE_AMP_P6, BLUE_AMP_P7, BLUE_AMP_P8, BLUE_AMP_P9, BLUE_AMP_P10, BLUE_AMP_P11, BLUE_AMP_P12, BLUE_AMP_P13, BLUE_AMP_P14];

// ---------------- layout ----------------
const W = 2133;
const PLOT_RIGHT = 2103;
const Y_AXIS_W = 93;
const X_AXIS_H = 10;
const TICK_LEN = 20;
const LINE_W = 4.3;

type Pt = { x: number; y: number };

function buildPanel(i: number) {
  const onset = i < STIM_ONSETS.length ? STIM_ONSETS[i] : Infinity;
  const oPost = ORANGE_POST[i] || [];
  const yPost = YELLOW_POST[i] || [];
  const aPost = BLUE_AMP_POST[i] || [];

  const oStart = Math.ceil(onset / 20);
  const orangeVals: (number | undefined)[] = ORANGE_BASE.map((v, k) => (k * 20 < onset ? v : oPost[k - oStart]));
  const orange: Pt[] = [];
  orangeVals.forEach((v, k) => {
    if (v !== undefined) orange.push({ x: k * 20, y: v / 1000 });
  });

  const yStart = Math.round(onset / 10);
  const yellow: Pt[] = [];
  YELLOW_BASE.forEach((v, k) => {
    const val = k * 10 < onset ? v : yPost[k - yStart];
    if (val !== undefined) yellow.push({ x: k * 10, y: val / 100 });
  });

  const k0 = SPIKE_TIMES.findIndex((t) => t >= onset);
  const amps = SPIKE_TIMES.map((t, k) => (t < onset || k0 < 0 ? BLUE_AMP_BASE[k] : aPost[k - k0] || 0));

  const ngAt = (x: number) => {
    const k = Math.max(0, Math.min(ORANGE_BASE.length - 1, Math.round(x / 20)));
    const v = orangeVals[k];
    return (v === undefined ? ORANGE_BASE[k] : v) / 1000;
  };
  const lastDx = SPIKE_SHAPE[SPIKE_SHAPE.length - 1][0];
  const spikePts: Pt[] = [];
  SPIKE_TIMES.forEach((t, k) => {
    const a = amps[k];
    if (!a) return;
    SPIKE_SHAPE.forEach(([dx, f]) => {
      const x = t + dx;
      if (x <= 2000) spikePts.push({ x, y: ngAt(x) + (a / 100) * f });
    });
  });
  const covered = (x: number) => SPIKE_TIMES.some((t, k) => amps[k] > 0 && x >= t && x <= t + lastDx);
  const blue = [...orange.filter((p) => !covered(p.x)), ...spikePts].sort((a, b) => a.x - b.x);

  const stim: Pt[] = isFinite(onset) ? [{ x: onset, y: 0.5 }, { x: STIM_END, y: 0.5 }] : [];
  return { blue, orange, yellow, stim };
}

const XTick = (props: any) => {
  const { x, y, payload, showLabel } = props;
  return (
    <g>
      <line x1={x} x2={x} y1={y} y2={y - TICK_LEN} stroke={AXIS} strokeWidth={1.2} />
      {showLabel ? (
        <text x={x} y={y + 31} textAnchor="middle" fontSize={21} fontFamily={FONT} fill={AXIS}>
          {payload.value}
        </text>
      ) : null}
    </g>
  );
};

const YTick = (props: any) => {
  const { x, y, payload } = props;
  return (
    <g>
      <line x1={x} x2={x + TICK_LEN} y1={y} y2={y} stroke={AXIS} strokeWidth={1.2} />
      <text x={x - 10} y={y} dy="0.36em" textAnchor="end" fontSize={21} fontFamily={FONT} fill={AXIS}>
        {payload.value}
      </text>
    </g>
  );
};

function Panel({ i }: { i: number }) {
  const last = i === 15;
  const top = last ? 1522.3 : 22.3 + 100 * i;
  const h = last ? 43.7 : 58.7;
  const mt = 12;
  const mb = last ? 1600 - (top + h) : 14;
  const chartH = mt + h + mb;
  const d = buildPanel(i);
  return (
    <div style={{ position: "absolute", left: 0, top: top - mt, width: W, height: chartH, zIndex: i === 0 ? 2 : 1 }}>
      {/* axes layer (drawn beneath the data, like MATLAB's default layer) */}
      <div style={{ position: "absolute", left: 0, top: 0 }}>
        <ComposedChart width={W} height={chartH} margin={{ top: mt, right: W - PLOT_RIGHT, bottom: mb - X_AXIS_H, left: 0 }}>
          <XAxis
            type="number"
            dataKey="x"
            domain={[0, 2000]}
            ticks={X_TICKS}
            interval={0}
            height={X_AXIS_H}
            tickSize={0}
            tickMargin={0}
            tickLine={false}
            axisLine={{ stroke: AXIS, strokeWidth: 1.3 }}
            tick={(p: any) => <XTick {...p} showLabel={last} />}
          />
          <YAxis
            type="number"
            domain={[0, 0.5]}
            ticks={Y_TICKS}
            interval={0}
            width={Y_AXIS_W}
            tickSize={0}
            tickMargin={0}
            tickLine={false}
            axisLine={{ stroke: AXIS, strokeWidth: 1.3 }}
            tick={(p: any) => <YTick {...p} />}
          />
          <Line data={d.orange} dataKey="y" stroke="none" dot={false} isAnimationActive={false} />
        </ComposedChart>
      </div>
      {/* data layer */}
      <div style={{ position: "absolute", left: 0, top: 0 }}>
        <ComposedChart width={W} height={chartH} margin={{ top: mt, right: W - PLOT_RIGHT, bottom: mb, left: Y_AXIS_W }}>
          <XAxis hide type="number" dataKey="x" domain={[0, 2000]} />
          <YAxis hide type="number" domain={[0, 0.5]} />
          <Line data={d.blue} dataKey="y" name={SERIES_NAMES[0]} type="linear" stroke={SERIES_COLORS[0]} strokeWidth={LINE_W} dot={false} isAnimationActive={false} strokeLinejoin="round" />
          <Line data={d.orange} dataKey="y" name={SERIES_NAMES[1]} type="monotone" stroke={SERIES_COLORS[1]} strokeWidth={LINE_W + 0.5} dot={false} isAnimationActive={false} />
          <Area data={d.yellow} dataKey="y" name={SERIES_NAMES[2]} type="linear" stroke={SERIES_COLORS[2]} strokeWidth={LINE_W} fill={SERIES_COLORS[2]} fillOpacity={1} dot={false} activeDot={false} isAnimationActive={false} strokeLinejoin="round" />
          {d.stim.length ? (
            <Line data={d.stim} dataKey="y" name="stim" type="linear" stroke={STIM_COLOR} strokeWidth={LINE_W + 0.4} strokeLinecap="butt" dot={false} isAnimationActive={false} />
          ) : null}
        </ComposedChart>
      </div>
    </div>
  );
}

function LegendBox() {
  return (
    <div
      style={{
        position: "absolute",
        left: 1797,
        top: 44,
        width: 291,
        height: 77,
        background: "#fff",
        border: "1.3px solid #262626",
        boxSizing: "border-box",
        zIndex: 5,
        fontFamily: FONT,
        fontSize: 19,
        color: "#000",
      }}
    >
      {SERIES_NAMES.map((n, k) => (
        <div key={n} style={{ position: "absolute", left: 0, top: 4 + k * 23.7, height: 24, display: "flex", alignItems: "center" }}>
          <div style={{ marginLeft: 8, width: 62, height: 4.3, background: SERIES_COLORS[k] }} />
          <span style={{ marginLeft: 9, whiteSpace: "nowrap" }}>{n}</span>
        </div>
      ))}
    </div>
  );
}

function LeftLabels() {
  return (
    <svg width={92} height={1600} style={{ position: "absolute", left: 0, top: 0, zIndex: 3 }}>
      <text
        x={14}
        y={762}
        transform="rotate(-90 14 762)"
        textAnchor="middle"
        dominantBaseline="central"
        fontFamily={FONT}
        fontWeight="bold"
        fontSize={20}
        fill="#000"
      >
        {Y_LABEL}
      </text>
      {PANEL_LABELS.map((lab, i) => {
        const top = i === 15 ? 1522.3 : 22.3 + 100 * i;
        const h = i === 15 ? 43.7 : 58.7;
        const cy = top + h / 2 + 6;
        return (
          <g key={i}>
            {[0, 3].map((o) => (
              <text key={o} x={38} y={cy + o} transform={`rotate(-90 38 ${cy + o})`} textAnchor="middle" dominantBaseline="central" fontFamily={FONT} fontWeight="bold" fontSize={17} fill="#000">
                {lab}
              </text>
            ))}
          </g>
        );
      })}
    </svg>
  );
}

export default function App() {
  const panels = Array.from({ length: 16 }, (_, i) => i);
  return (
    <div style={{ position: "absolute", left: 0, top: 0, width: W, height: 1600, background: "#fff", overflow: "hidden" }}>
      {panels.map((i) => (
        <Panel key={i} i={i} />
      ))}
      <LeftLabels />
      <LegendBox />
    </div>
  );
}
